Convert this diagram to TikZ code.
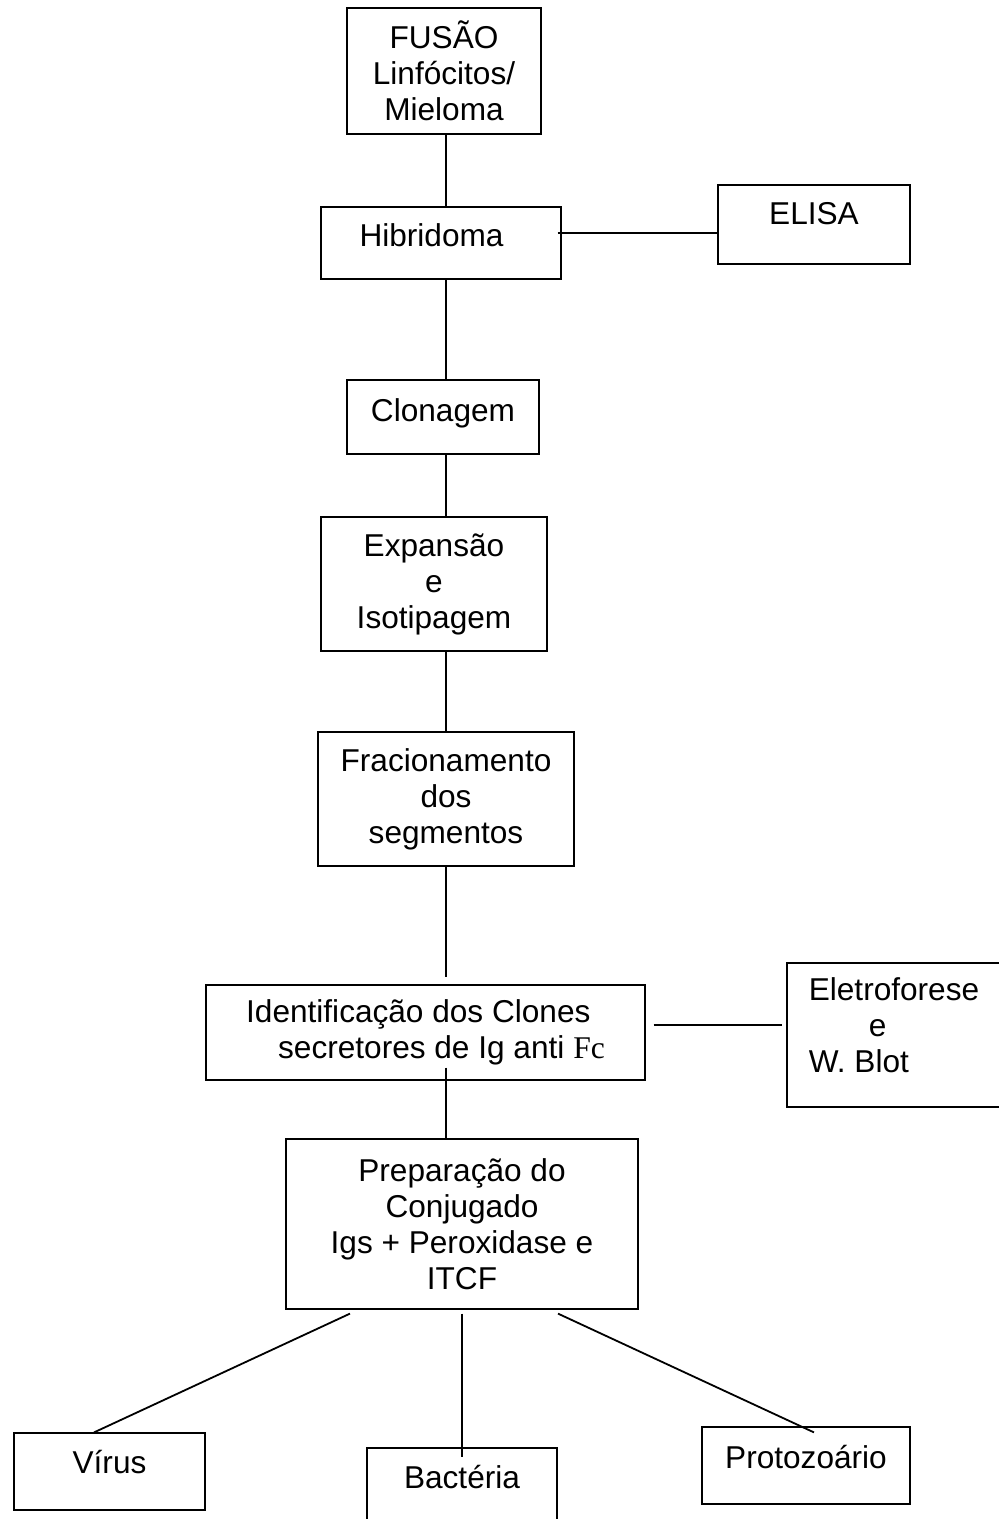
\documentclass[tikz,border=0pt]{standalone}
\usepackage{fontspec}
\setmainfont{Liberation Sans}
\newfontfamily\timesfont{Liberation Serif}

\begin{document}
\begin{tikzpicture}[x=0.5pt,y=0.5pt,
	box/.style={draw,line width=0.6pt,inner sep=2pt,align=center,font=\fontsize{15.8}{18}\selectfont},
	one/.style={text height=11.5pt,text depth=#1}]
	\useasboundingbox (0,0) rectangle (998,-1519);
	\coordinate (spine) at (446,0);
	\node[box,minimum width=97pt,minimum height=63pt] (fusao) at (444,-71) {FUSÃO\\Linfócitos/\\Mieloma};
	\node[box,one=7.5pt,minimum width=120pt,minimum height=36pt] (hibrid) at (441,-243) {Hibridoma\hspace*{9.5pt}};
	\node[box,one=11pt,minimum width=96pt,minimum height=39.5pt] (elisa) at (814,-224.5) {ELISA};
	\node[box,one=7.5pt,minimum width=96pt,minimum height=37pt] (clon) at (443,-417) {Clonagem};
	\node[box,minimum width=113pt,minimum height=67pt] (expan) at (434,-584) {Expansão\\e\\Isotipagem};
	\node[box,minimum width=128pt,minimum height=67pt] (fracio) at (446,-799) {Fracionamento\\dos\\segmentos};
	\node[box,align=left,minimum width=219.5pt,minimum height=47.5pt] (ident) at (425.5,-1032.5) {Identificação dos Clones\\\hspace*{16pt}secretores de Ig anti {\timesfont Fc}};
	\node[box,align=left,minimum width=107pt,minimum height=72pt] (eletro) at (894,-1035) {Eletroforese\\\hspace*{30pt}e\\W. Blot\rule[-10pt]{0pt}{10pt}};
	\node[box,minimum width=176pt,minimum height=85pt] (prep) at (462,-1224) {Preparação do\\Conjugado\\Igs + Peroxidase e\\ITCF};
	\node[box,one=10pt,minimum width=95.5pt,minimum height=38.5pt] (virus) at (109.5,-1471.5) {Vírus};
	\node[box,one=11.5pt,minimum width=95pt,minimum height=40pt] (bact) at (462,-1488) {Bactéria};
	\node[box,one=9pt,minimum width=104pt,minimum height=38.5pt] (proto) at (806,-1465.5) {Protozoário};
	\draw[line width=0.9pt] (fusao.south -| spine) edge (hibrid.north -| spine)
		(hibrid.south -| spine) edge (clon.north -| spine)
		(clon.south -| spine) edge (expan.north -| spine)
		(expan.south -| spine) edge (fracio.north -| spine)
		(fracio.south -| spine) edge[shorten >=3.5pt] (ident.north -| spine)
		(ident.south -| spine) edge[shorten <=-6.5pt] (prep.north -| spine)
		([shift={(-4,10)}]hibrid.east) edge ([shift={(0,-8.5)}]elisa.west)
		([shift={(8,7.5)}]ident.east) edge ([shift={(-4,10)}]eletro.west)
		([shift={(-112,-4)}]prep.south) edge ([shift={(-15.5,0)}]virus.north)
		([shift={(0,-4)}]prep.south) edge ([shift={(0,-10)}]bact.north)
		([shift={(96,-4)}]prep.south) edge ([shift={(8,-6)}]proto.north);
\end{tikzpicture}
\end{document}
